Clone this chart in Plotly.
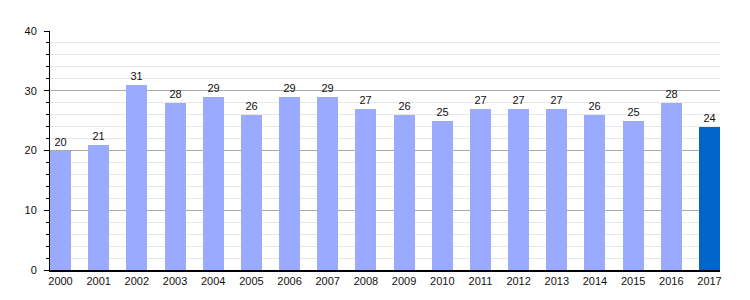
import plotly.graph_objects as go

years = ["2000","2001","2002","2003","2004","2005","2006","2007","2008","2009",
         "2010","2011","2012","2013","2014","2015","2016","2017"]
values = [20,21,31,28,29,26,29,29,27,26,25,27,27,27,26,25,28,24]
colors = ["#99aaff"] * 17 + ["#0066cc"]

fig = go.Figure(go.Bar(
    x=list(range(len(years))), y=values, marker=dict(color=colors, line=dict(width=0)),
    width=0.55, text=[str(v) for v in values], textposition="outside",
    textfont=dict(size=11, color="#111111", family="Liberation Sans, Arial"),
    cliponaxis=False,
))
fig.update_layout(
    width=750, height=300, margin=dict(l=50, r=30, t=31, b=30),
    plot_bgcolor="white", paper_bgcolor="white",
    font=dict(family="Liberation Sans, Arial", size=11, color="#111111"),
    showlegend=False, bargap=0,
)
fig.update_xaxes(
    range=[-0.275, 17.275], tickmode="array", tickvals=list(range(len(years))),
    ticktext=years, showline=True, linecolor="black", linewidth=1.5,
    showgrid=False, ticks="", zeroline=False, tickfont=dict(size=11),
)
fig.update_yaxes(
    range=[0, 40], dtick=10, showline=True, linecolor="black", linewidth=1,
    gridcolor="#aaaaaa", gridwidth=1, ticks="outside", ticklen=5, tickcolor="black",
    zeroline=False, tickfont=dict(size=11), ticklabelstandoff=5,
    minor=dict(dtick=2, showgrid=True, gridcolor="#e8e8e8", ticks="outside",
               ticklen=3, tickcolor="black"),
)
fig.write_html("out.html")
